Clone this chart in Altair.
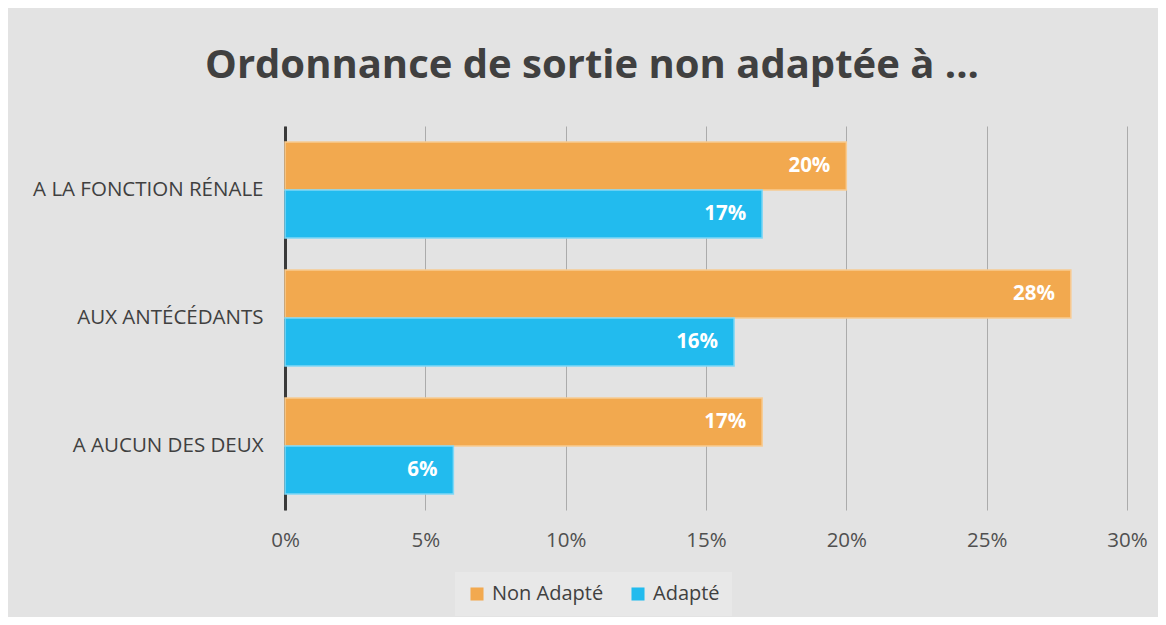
import altair as alt
import pandas as pd

categories = ["A LA FONCTION RÉNALE", "AUX ANTÉCÉDANTS", "A AUCUN DES DEUX"]
series = ["Non Adapté", "Adapté"]
non_adapte = [0.20, 0.28, 0.17]
adapte = [0.17, 0.16, 0.06]
x_ticks = [0, 0.05, 0.10, 0.15, 0.20, 0.25, 0.30]

rows = []
for i, c in enumerate(categories):
    rows.append({"cat": c, "serie": series[0], "val": non_adapte[i]})
    rows.append({"cat": c, "serie": series[1], "val": adapte[i]})
df = pd.DataFrame(rows)

FONT = "Open Sans"
colors = ["#F2A94F", "#22BBEE"]
strokes = ["#F8CB92", "#80D8F6"]

y = alt.Y("cat:N", sort=categories, title=None,
          scale=alt.Scale(paddingInner=0.25, paddingOuter=0.125),
          axis=alt.Axis(labelFont=FONT, labelFontSize=20.5, labelColor="#404040",
                        labelPadding=22, labelLimit=400, ticks=False, domainColor="#3a3a3a",
                        domainWidth=3, grid=False))
x = alt.X("val:Q", title=None,
          scale=alt.Scale(domain=[0, 0.30], nice=False),
          axis=alt.Axis(values=x_ticks, format=".0%", labelFont=FONT, labelFontSize=20.5,
                        labelColor="#505050", labelPadding=20, labelFlush=False, ticks=False,
                        domain=False, grid=True, gridColor="#ababab", gridWidth=1))
yoff = alt.YOffset("serie:N", sort=series, scale=alt.Scale(paddingInner=0, paddingOuter=0))

bars = alt.Chart(df).mark_bar(strokeWidth=1.5).encode(
    y=y, x=x, yOffset=yoff,
    color=alt.Color("serie:N", sort=series, scale=alt.Scale(domain=series, range=colors),
                    legend=alt.Legend(title=None, orient="none", legendX=170, legendY=446,
                                      direction="horizontal", labelFont=FONT, labelFontSize=20,
                                      labelColor="#404040", symbolType="square", symbolSize=170,
                                      symbolStrokeWidth=0, fillColor="#e8e8e8", padding=12,
                                      columnPadding=24, labelOffset=5)),
    stroke=alt.Stroke("serie:N", sort=series, scale=alt.Scale(domain=series, range=strokes),
                      legend=None),
)

labels = alt.Chart(df).mark_text(align="right", baseline="middle", dx=-16, font=FONT,
                                 fontSize=20.5, fontWeight="bold", color="white").encode(
    y=y, x=x, yOffset=yoff,
    text=alt.Text("val:Q", format=".0%"),
)

chart = alt.layer(bars, labels).properties(
    width=842, height=384,
    padding={"left": 277, "top": 118, "right": 31, "bottom": 107},
    autosize=alt.AutoSizeParams(type="none"),
    background="#e3e3e3",
    title=alt.TitleParams("Ordonnance de sortie non adaptée à ...", font=FONT, fontSize=40,
                          fontWeight="bold", color="#404040", anchor="middle", dx=-114,
                          offset=40),
).configure_view(stroke=None)

chart.save("out.html", embed_options={"renderer": "svg", "actions": False})
